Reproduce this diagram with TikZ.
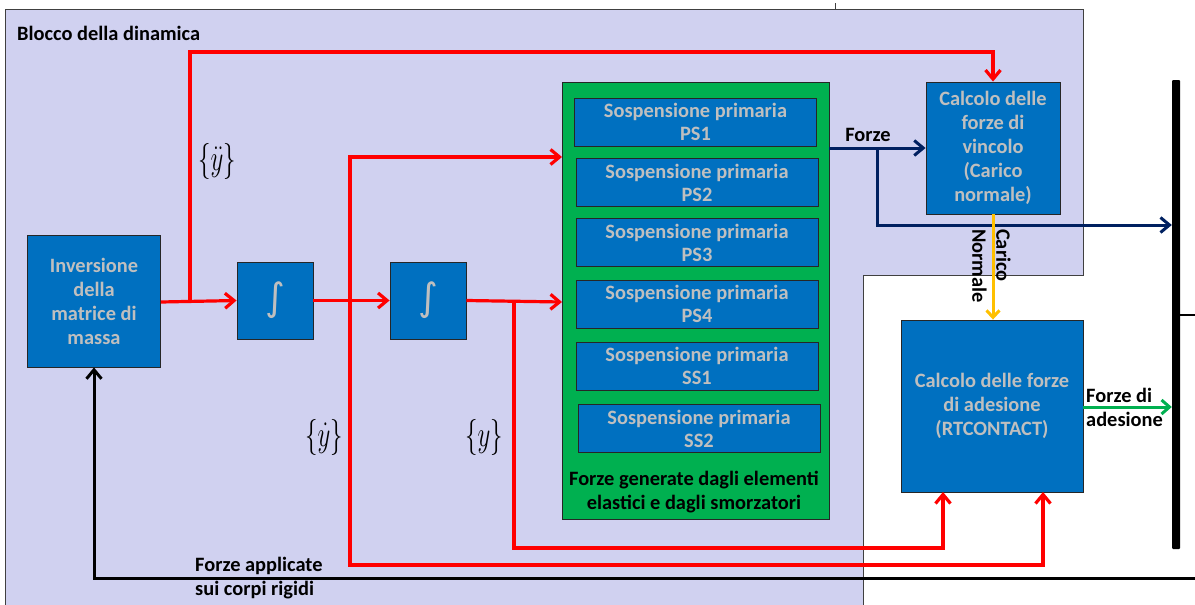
\documentclass[tikz,border=0pt]{standalone}
\usepackage{fontspec}
\setmainfont{Carlito}
\newfontfamily\symfont{DejaVu Sans}
\usetikzlibrary{arrows.meta}
\definecolor{lav}{HTML}{D0D1F0}
\definecolor{boxblue}{HTML}{0070C0}
\definecolor{boxgreen}{HTML}{00B050}
\definecolor{navy}{HTML}{002060}
\definecolor{amber}{HTML}{FFC000}
\definecolor{boxtext}{HTML}{BFBFBF}
\definecolor{edge}{HTML}{404040}
\begin{document}
\begin{tikzpicture}[x=1pt,y=-1pt,
  txt/.style={font=\bfseries\fontsize{20.4}{24}\selectfont},
  blk/.style={txt, draw=black!85, line width=0.9pt, fill=boxblue, text=boxtext, align=center, inner sep=0pt},
  sub/.style={blk, minimum width=242pt, minimum height=48pt, font=\bfseries\fontsize{20.4}{23}\selectfont},
  integ/.style={blk, minimum width=76pt, minimum height=77pt, font=\symfont\fontsize{38}{38}\selectfont},
  lbl/.style={txt, text=black, align=left, inner sep=0pt},
  mathlbl/.style={inner sep=0pt, font=\fontsize{25}{25}\selectfont, xscale=1, yscale=1.45},
  tip/.style={-{Straight Barb[length=9pt,width=15pt]}},
  redflow/.style={draw=red, line width=3.2pt},
  navyflow/.style={draw=navy, line width=3pt},
]
\useasboundingbox (0,0) rectangle (1195,605);
\clip (0,0) rectangle (1195,605);

% background of the dynamics block
\filldraw[fill=lav, draw=edge, line width=1pt]
  (5,9) -- (1083,9) -- (1083,275) -- (863,275) -- (863,620) -- (5,620) -- cycle;
\draw[edge, line width=1pt] (835,3) -- (835,9);
\node[lbl, anchor=west] (title) at (17,33) {Blocco della dinamica};

% blocks
\node[blk, minimum width=133pt, minimum height=132pt] (inv) at (94,301)
  {Inversione\\della\\matrice di\\massa};
\node[integ] (int1) at (275,300.5) {∫};
\node[integ] (int2) at (428,300.5) {∫};

\node[draw=black!85, line width=0.9pt, fill=boxgreen, minimum width=267pt, minimum height=437pt, inner sep=0pt]
  (grn) at (695.5,300.5) {};
\node[sub] (ps1) at (695.5,122) {Sospensione primaria\\PS1};
\node[sub] (ps2) at (697,182.5) {Sospensione primaria\\PS2};
\node[sub] (ps3) at (697,242.5) {Sospensione primaria\\PS3};
\node[sub] (ps4) at (697,304) {Sospensione primaria\\PS4};
\node[sub] (ss1) at (697,366) {Sospensione primaria\\SS1};
\node[sub] (ss2) at (699,428.5) {Sospensione primaria\\SS2};
\node[lbl, align=center] (grntxt) at (694,492)
  {Forze generate dagli elementi\\elastici e dagli smorzatori};

\node[blk, minimum width=134pt, minimum height=132pt] (vinc) at (993,148)
  {Calcolo delle\\forze di\\vincolo\\(Carico\\normale)};
\node[blk, minimum width=182pt, minimum height=172pt] (adh) at (992,406)
  {Calcolo delle forze\\di adesione\\(RTCONTACT)};

\node[fill=black, minimum width=8pt, minimum height=469pt, inner sep=0pt, rounded corners=1pt]
  (bar) at (1176,314.5) {};

% state-vector labels
\node[mathlbl] (lacc) at (217,161) {$\{\ddot{y}\}$};
\node[mathlbl] (lvel) at (324,437) {$\{\dot{y}\}$};
\node[mathlbl] (lpos) at (484,437) {$\{y\}$};

% branch points and free ends
\coordinate (b1) at (190,302);
\coordinate (t1) at (190,52);
\coordinate (b2) at (350,302);
\coordinate (g1) at (562,157);
\coordinate (c2) at (350,565);
\coordinate (a2) at (1043,492);
\coordinate (b3) at (514,302);
\coordinate (g2) at (562,302);
\coordinate (c3) at (514,548);
\coordinate (a1) at (943,492);
\coordinate (f0) at (829,148);
\coordinate (f1) at (877,148);
\coordinate (f2) at (877,225);
\coordinate (e1) at (1083,407);
\coordinate (r1) at (1195,315);
\coordinate (r2) at (1200,578);
\coordinate (k1) at (94,578);

% red signal paths
\draw[redflow, tip] (inv.east |- b1) -- (int1.west);
\draw[redflow, tip] (b1) -- (t1) -| (vinc.north);
\draw[redflow, tip] (int1.east) -- (int2.west);
\draw[redflow, tip] (b2) |- (g1);
\draw[redflow, tip] (b2) -- (c2) -| (a2);
\draw[redflow, tip] (int2.east) -- (g2);
\draw[redflow, tip] (b3) -- (c3) -| (a1);

% forces
\draw[navyflow, tip] (f0) -- (vinc.west);
\draw[navyflow, tip] (f1) -- (f2) -- (bar.west |- f2);
\node[lbl, anchor=south] (lforze) at (868,142) {Forze};

\draw[draw=amber, line width=3pt, -{Straight Barb[length=7pt,width=13pt]}]
  (vinc.south) -- (vinc.south |- adh.north);
\node[lbl, rotate=-90, anchor=north west] (lcar) at (1011,229) {Carico\\Normale};

\draw[draw=boxgreen, line width=3pt, -{Straight Barb[length=8pt,width=14pt]}]
  (e1) -- (bar.west |- e1);
\node[lbl, anchor=west] (ladh) at (1086,407) {Forze di\\adesione};

\draw[black, line width=2pt] (bar.east |- r1) -- (r1);
\draw[black, line width=3pt, tip] (r2) -- (k1) -- (inv.south);
\node[lbl, anchor=west] (lapp) at (195,578) {Forze applicate\\sui corpi rigidi};
\end{tikzpicture}
\end{document}
